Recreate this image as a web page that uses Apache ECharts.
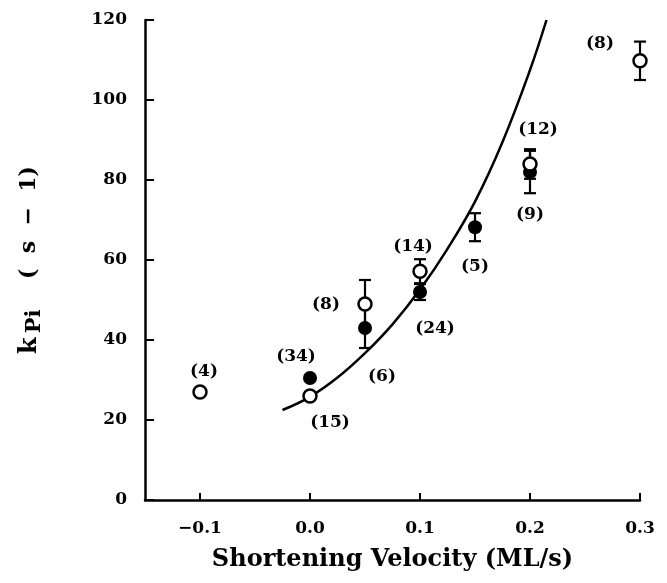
<!DOCTYPE html>
<html>
<head>
<meta charset="utf-8">
<script src="https://cdn.jsdelivr.net/npm/echarts@6/dist/echarts.min.js"></script>
<style>
  html, body { margin: 0; padding: 0; background: #fff; }
  #chart { width: 667px; height: 583px; }
</style>
</head>
<body>
<div id="chart"></div>
<script type="text/javascript">
    // open circles
    var openX = [-0.1, 0.0, 0.05, 0.1, 0.2, 0.3];
    var openY = [27, 26, 49, 57.2, 84, 109.8];
    var openErr = [0, 0, 6, 3, 3.7, 4.8];
    var openN = ['(4)', '(15)', '(8)', '(14)', '(12)', '(8)'];

    // filled circles
    var filledX = [0.0, 0.05, 0.1, 0.15, 0.2];
    var filledY = [30.5, 43, 52, 68.2, 82];
    var filledErr = [0, 5, 2, 3.5, 5.3];
    var filledN = ['(34)', '(6)', '(24)', '(5)', '(9)'];

    // fitted curve
    var fitX = [-0.025, 0.0, 0.025, 0.05, 0.075, 0.1, 0.125, 0.15, 0.175, 0.2, 0.215];
    var fitY = [22.5, 25.8, 30.6, 36.7, 43.9, 52.6, 62.8, 74.6, 89.5, 107.5, 120];

    var xTicks = [-0.1, 0.0, 0.1, 0.2, 0.3];

    // label offsets in pixels (layout only)
    var openLabelOff = [[4, -20], [20, 27], [-39, 1], [-7, -25], [8, -34], [-40, -17]];
    var filledLabelOff = [[-14, -21], [17, 49], [15, 37], [0, 39], [0, 43]];

    var FONT = 'DejaVu Serif';

    function pts(xs, ys, names, offs) {
        return xs.map(function (x, i) {
            return { value: [x, ys[i]], name: names[i], label: { offset: offs[i] } };
        });
    }
    function bars(xs, ys, errs) {
        var out = [];
        xs.forEach(function (x, i) {
            if (errs[i] > 0) out.push([x, ys[i] - errs[i], ys[i] + errs[i]]);
        });
        return out;
    }

    var myChart = echarts.init(document.getElementById('chart'));
    var labelStyle = {
        show: true,
        position: 'inside',
        formatter: '{b}',
        color: '#000',
        fontFamily: FONT,
        fontWeight: 'bold',
        fontSize: 17
    };

    option = {
        animation: false,
        backgroundColor: '#fff',
        grid: { left: 145, right: 27, top: 20, bottom: 83 },
        xAxis: {
            type: 'value',
            min: -0.15,
            max: 0.3,
            name: 'Shortening Velocity (ML/s)',
            nameLocation: 'middle',
            nameGap: 48,
            nameTextStyle: { fontFamily: FONT, fontWeight: 'bold', fontSize: 24, color: '#000' },
            axisLine: { onZero: false, lineStyle: { color: '#000', width: 2.5 } },
            axisTick: { inside: true, length: 7, customValues: xTicks, lineStyle: { color: '#000', width: 2 } },
            axisLabel: {
                customValues: xTicks,
                margin: 20,
                color: '#000',
                fontFamily: FONT,
                fontWeight: 'bold',
                fontSize: 17,
                formatter: function (v) { return v < 0 ? '\u2212' + Math.abs(v).toFixed(1) : v.toFixed(1); }
            },
            splitLine: { show: false }
        },
        yAxis: {
            type: 'value',
            min: 0,
            max: 120,
            interval: 20,
            name: '{k|k}{sub|Pi}    {p|(  s  \u2212  1)}',
            nameLocation: 'middle',
            nameRotate: 90,
            nameGap: 100,
            nameTextStyle: {
                fontFamily: FONT, fontWeight: 'bold', fontSize: 22, color: '#000',
                rich: {
                    k: { fontFamily: FONT, fontWeight: 'bold', fontSize: 24, color: '#000' },
                    sub: { fontFamily: FONT, fontWeight: 'bold', fontSize: 21, color: '#000', padding: [10, 0, 0, 4] },
                    p: { fontFamily: FONT, fontWeight: 'bold', fontSize: 22, color: '#000' }
                }
            },
            axisLine: { show: true, onZero: false, lineStyle: { color: '#000', width: 2.5 } },
            axisTick: { show: true, inside: true, length: 9, lineStyle: { color: '#000', width: 2 } },
            axisLabel: { margin: 18, color: '#000', fontFamily: FONT, fontWeight: 'bold', fontSize: 17 },
            splitLine: { show: false }
        },
        series: [
            {
                name: 'fit',
                type: 'line',
                smooth: 0.4,
                symbol: 'none',
                data: fitX.map(function (x, i) { return [x, fitY[i]]; }),
                lineStyle: { color: '#000', width: 2.5 },
                z: 2
            },
            {
                name: 'err',
                type: 'custom',
                data: bars(openX, openY, openErr).concat(bars(filledX, filledY, filledErr)),
                renderItem: function (params, api) {
                    var x = api.value(0);
                    var lo = api.coord([x, api.value(1)]);
                    var hi = api.coord([x, api.value(2)]);
                    var w = 6;
                    var st = { stroke: '#000', lineWidth: 2.2 };
                    return {
                        type: 'group',
                        children: [
                            { type: 'line', shape: { x1: lo[0], y1: lo[1], x2: hi[0], y2: hi[1] }, style: st },
                            { type: 'line', shape: { x1: lo[0] - w, y1: lo[1], x2: lo[0] + w, y2: lo[1] }, style: st },
                            { type: 'line', shape: { x1: hi[0] - w, y1: hi[1], x2: hi[0] + w, y2: hi[1] }, style: st }
                        ]
                    };
                },
                z: 3
            },
            {
                name: 'filled',
                type: 'scatter',
                symbol: 'circle',
                symbolSize: 14,
                data: pts(filledX, filledY, filledN, filledLabelOff),
                itemStyle: { color: '#000', opacity: 1 },
                label: labelStyle,
                z: 4
            },
            {
                name: 'open',
                type: 'scatter',
                symbol: 'circle',
                symbolSize: 13,
                data: pts(openX, openY, openN, openLabelOff),
                itemStyle: { color: '#fff', borderColor: '#000', borderWidth: 2.5, opacity: 1 },
                label: labelStyle,
                z: 5
            }
        ]
    };

    myChart.setOption(option);
</script>
</body>
</html>
